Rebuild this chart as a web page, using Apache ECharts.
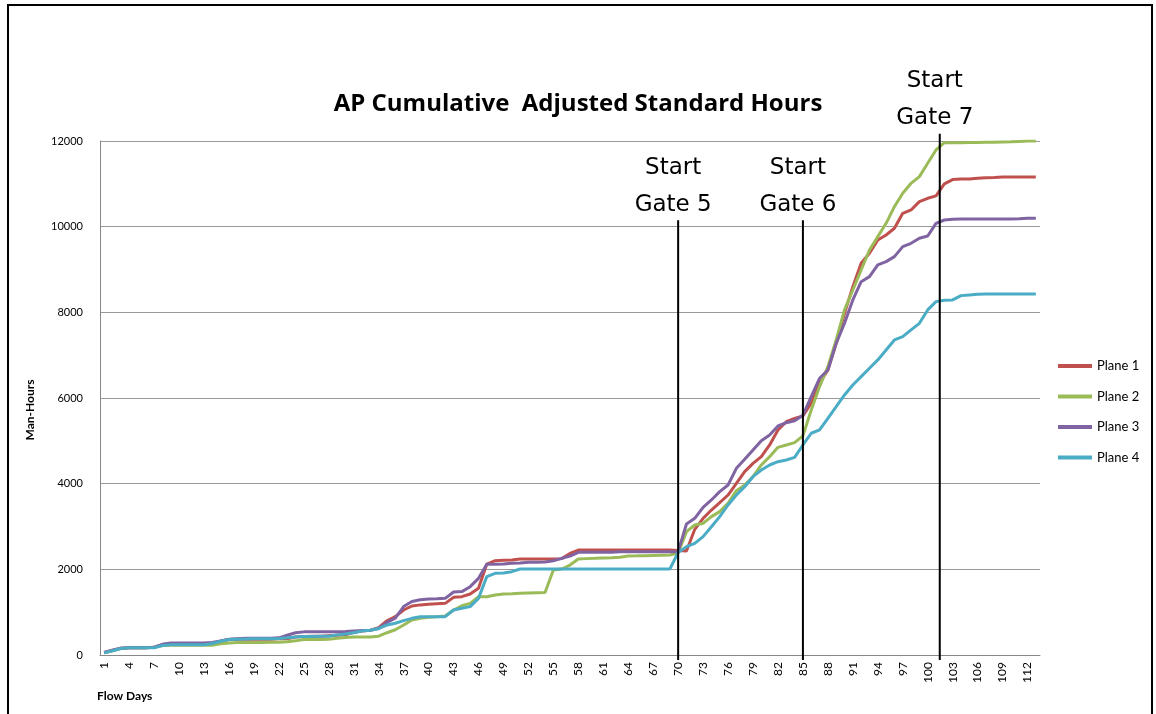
<!DOCTYPE html>
<html>
<head>
<meta charset="utf-8">
<script src="https://cdn.jsdelivr.net/npm/echarts@6/dist/echarts.min.js"></script>
<style>
  html, body { margin: 0; background: #fff; }
  #chart { width: 1156px; height: 714px; }
</style>
</head>
<body>
<div id="chart"></div>
<script>
// flow days 1..113
const days = Array.from({ length: 113 }, (_, i) => String(i + 1))

const plane1 = [
  60, 110, 160, 170, 170, 170, 180, 240, 270, 270, 270, 270, 270,
  280, 320, 360, 370, 370, 370, 370, 370, 380,
  380, 420, 430, 440, 440, 450, 460, 470, 530, 560, 580, 640,
  800, 895, 1051, 1144, 1170, 1183, 1195, 1206, 1346, 1362, 1424, 1557, 2124, 2202, 2210, 2218, 2240, 2241, 2241,
  2241, 2241, 2250, 2370, 2451, 2451, 2451, 2451, 2451, 2451, 2451, 2451, 2451, 2451, 2451, 2451,
  2440, 2430, 2934, 3191, 3385, 3557, 3735, 4008, 4280, 4475, 4630, 4903, 5253, 5447, 5525, 5580,
  5877, 6344, 6655, 7277, 7978, 8600, 9145, 9378, 9689, 9806, 9962, 10312, 10390, 10584, 10662, 10720, 11000,
  11100, 11110, 11113, 11130, 11144, 11150, 11160, 11160, 11160, 11160, 11160,
]
const plane2 = [
  50, 100, 150, 170, 170, 170, 180, 220, 230, 230, 230, 230, 230,
  230, 260, 280, 290, 290, 290, 290, 300, 300,
  310, 330, 360, 360, 360, 370, 390, 410, 420, 420, 420, 440,
  520, 590, 701, 817, 860, 880, 895, 911, 1051, 1150, 1206, 1362, 1362, 1400, 1424, 1430, 1440, 1450, 1455,
  1460, 1984, 2008, 2100, 2241, 2250, 2257, 2265, 2270, 2280, 2311, 2315, 2320, 2325, 2330, 2334,
  2380, 2880, 3035, 3074, 3230, 3347, 3541, 3837, 3969, 4163, 4436, 4630, 4848, 4903, 4957, 5115,
  5721, 6266, 6733, 7355, 8056, 8522, 8989, 9456, 9767, 10078, 10467, 10779, 11012, 11168, 11479, 11790, 11960,
  11960, 11960, 11965, 11965, 11970, 11970, 11975, 11980, 11990, 12000, 12000,
]
const plane3 = [
  60, 110, 160, 170, 170, 170, 180, 250, 280, 280, 280, 280, 280,
  290, 330, 370, 380, 390, 390, 390, 390, 400,
  460, 520, 540, 540, 540, 545, 545, 550, 560, 570, 580, 620,
  760, 860, 1130, 1250, 1290, 1308, 1315, 1323, 1470, 1480, 1595, 1790, 2117, 2117, 2125, 2140, 2150, 2163, 2163,
  2170, 2200, 2257, 2311, 2397, 2400, 2400, 2400, 2400, 2412, 2412, 2412, 2412, 2412, 2412, 2412,
  2413, 3059, 3191, 3448, 3619, 3813, 3969, 4358, 4568, 4786, 5004, 5136, 5346, 5424, 5470, 5600,
  6033, 6461, 6655, 7277, 7744, 8289, 8716, 8833, 9106, 9184, 9300, 9534, 9612, 9728, 9783, 10078, 10156,
  10172, 10179, 10179, 10179, 10179, 10179, 10179, 10179, 10185, 10195, 10195,
]
const plane4 = [
  50, 100, 150, 170, 170, 170, 170, 220, 240, 240, 240, 240, 240,
  270, 320, 360, 370, 375, 380, 380, 380, 385,
  400, 420, 430, 430, 440, 440, 470, 490, 520, 560, 580, 620,
  700, 740, 802, 856, 895, 895, 895, 895, 1051, 1090, 1129, 1323, 1829, 1907, 1915, 1946, 2008, 2008, 2008,
  2008, 2008, 2008, 2008, 2008, 2008, 2008, 2008, 2008, 2008, 2008, 2008, 2008, 2008, 2008, 2008,
  2390, 2530, 2607, 2763, 2996, 3230, 3502, 3735, 3930, 4163, 4319, 4436, 4513, 4552, 4615, 4903,
  5177, 5255, 5527, 5800, 6072, 6305, 6500, 6694, 6889, 7122, 7355, 7433, 7589, 7744, 8056, 8250, 8280,
  8290, 8390, 8405, 8420, 8429, 8429, 8429, 8429, 8429, 8429, 8429,
]

// gate start markers: flow day and the man-hour level where the line begins
const gateNames = ['Start\nGate 5', 'Start\nGate 6', 'Start\nGate 7']
const gateDays = [70, 85, 101.45]
const gateTops = [10150, 10150, 12170]

const COLORS = ['#C0504D', '#9BBB59', '#8064A2', '#4BACC6']
const FONT = 'Lato, Calibri, "Open Sans", sans-serif'

const chart = echarts.init(document.getElementById('chart'))

const line = (name, data, color) => ({
  name, type: 'line', data, xAxisIndex: 0,
  symbol: 'none', smooth: false,
  lineStyle: { width: 3, color },
  itemStyle: { color },
})

chart.setOption({
  animation: false,
  title: {
    text: 'AP Cumulative  Adjusted Standard Hours', left: 'center', top: 87,
    textStyle: { fontFamily: '"Open Sans", sans-serif', fontSize: 24, fontWeight: 'bold', color: '#000' },
  },
  legend: {
    orient: 'vertical', left: 1058, top: 358, itemGap: 14.5, padding: 0,
    icon: 'rect', itemWidth: 34, itemHeight: 4,
    textStyle: { fontFamily: FONT, fontSize: 13, lineHeight: 16, color: '#000' },
  },
  grid: { left: 100, right: 116, top: 141, bottom: 59 },
  xAxis: [{
    type: 'category', data: days, boundaryGap: true,
    axisLine: { lineStyle: { color: '#888' } },
    axisTick: { show: false },
    axisLabel: { interval: 2, rotate: 90, fontFamily: FONT, fontSize: 12, color: '#000', margin: 7 },
  }, {
    // hidden linear copy of the day axis, used to place the gate lines
    type: 'value', min: 0.5, max: 113.5, show: false,
  }],
  yAxis: {
    type: 'value', min: 0, max: 12000, interval: 2000,
    axisLine: { show: true, lineStyle: { color: '#888' } },
    axisTick: { show: false },
    splitLine: { lineStyle: { color: '#999' } },
    axisLabel: { fontFamily: FONT, fontSize: 11, color: '#000', margin: 17, formatter: v => String(v) },
  },
  series: [
    line('Plane 1', plane1, COLORS[0]),
    line('Plane 2', plane2, COLORS[1]),
    line('Plane 3', plane3, COLORS[2]),
    line('Plane 4', plane4, COLORS[3]),
  ],
})

const y0 = chart.convertToPixel({ yAxisIndex: 0 }, 0)
const gateGraphics = gateNames.flatMap((name, i) => {
  const x = chart.convertToPixel({ xAxisIndex: 1 }, gateDays[i])
  const yt = chart.convertToPixel({ yAxisIndex: 0 }, gateTops[i])
  return [
    { type: 'line', z: 10, shape: { x1: x, y1: yt, x2: x, y2: y0 + 5 },
      style: { stroke: '#000', lineWidth: 2 } },
    { type: 'text', z: 10, x: x - 5, y: yt + 3,
      style: { text: name, align: 'center', verticalAlign: 'bottom',
        fontFamily: '"DejaVu Sans", Verdana, sans-serif', fontSize: 23, lineHeight: 37, fill: '#000' } },
  ]
})

chart.setOption({
  graphic: [
    { type: 'rect', shape: { x: 8, y: 5, width: 1144, height: 760 },
      style: { fill: 'none', stroke: '#000', lineWidth: 2 }, silent: true },
    { type: 'text', x: 97, y: 696,
      style: { text: 'Flow Days', fontFamily: FONT, fontSize: 12, fontWeight: 'bold', fill: '#000', verticalAlign: 'middle' } },
    { type: 'text', x: 30, y: 410, rotation: Math.PI / 2,
      style: { text: 'Man-Hours', fontFamily: FONT, fontSize: 12, fontWeight: 'bold', fill: '#000',
        align: 'center', verticalAlign: 'middle' } },
    ...gateGraphics,
  ],
})
</script>
</body>
</html>
